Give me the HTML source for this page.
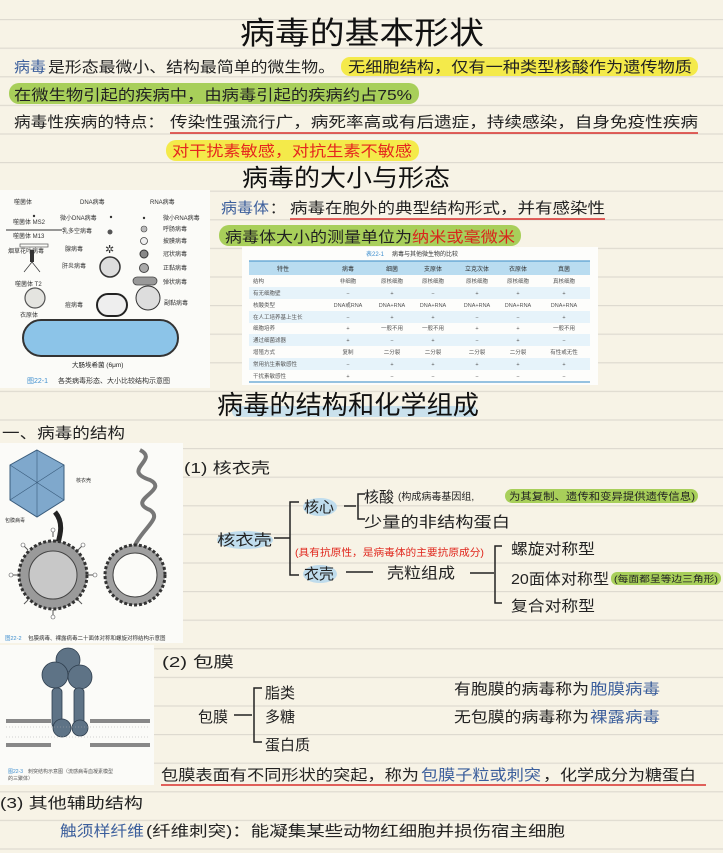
<!DOCTYPE html>
<html><head><meta charset="utf-8"><style>
html,body{margin:0;padding:0;width:723px;height:853px;overflow:hidden;background:#f7f3e6;}
svg{display:block}
text{font-family:"Liberation Sans","Noto Sans CJK SC",sans-serif;}
</style></head><body>
<svg width="723" height="853" viewBox="0 0 723 853" xmlns="http://www.w3.org/2000/svg">
<defs>
<pattern id="rule" x="0" y="19" width="723" height="28.6" patternUnits="userSpaceOnUse">
<rect x="0" y="0" width="723" height="1.2" fill="#dedad0"/>
</pattern>
</defs>
<rect width="723" height="853" fill="#f7f3e6"/>
<rect width="723" height="853" fill="url(#rule)"/>

<text x="240" y="44" font-size="31" textLength="244" lengthAdjust="spacingAndGlyphs" fill="#111">病毒的基本形状</text>

<rect x="341" y="57" width="357" height="19" rx="9" fill="#f4ea4a"/>
<text x="14" y="72" font-size="15" fill="#3c5f9c" textLength="32" lengthAdjust="spacingAndGlyphs">病毒</text>
<text x="48" y="72" font-size="15" fill="#222" textLength="287" lengthAdjust="spacingAndGlyphs">是形态最微小、结构最简单的微生物。</text>
<text x="348" y="72" font-size="15" fill="#222" textLength="344" lengthAdjust="spacingAndGlyphs">无细胞结构，仅有一种类型核酸作为遗传物质</text>

<rect x="9" y="83" width="410" height="21" rx="10" fill="#a8cf5a"/>
<text x="14" y="100" font-size="15" fill="#222" textLength="398" lengthAdjust="spacingAndGlyphs">在微生物引起的疾病中，由病毒引起的疾病约占75%</text>

<text x="14" y="127" font-size="15" fill="#222" textLength="150" lengthAdjust="spacingAndGlyphs">病毒性疾病的特点：</text>
<text x="170" y="127" font-size="15" fill="#222" textLength="528" lengthAdjust="spacingAndGlyphs">传染性强流行广，病死率高或有后遗症，持续感染，自身免疫性疾病</text>
<line x1="170" y1="133" x2="698" y2="133" stroke="#d8302c" stroke-width="1.5"/>

<rect x="166" y="140" width="253" height="21" rx="10" fill="#f4ea4a"/>
<text x="172" y="156" font-size="15" fill="#e5261e" textLength="240" lengthAdjust="spacingAndGlyphs">对干扰素敏感，对抗生素不敏感</text>

<text x="242" y="186" font-size="24" textLength="208" lengthAdjust="spacingAndGlyphs" fill="#111">病毒的大小与形态</text>

<rect x="0" y="190" width="210" height="198" fill="#fbfbf8"/>
<g font-size="6" fill="#333">
<text x="14" y="204">噬菌体</text><text x="80" y="204">DNA病毒</text><text x="150" y="204">RNA病毒</text>
<circle cx="34" cy="216" r="1.2" fill="#333"/>
<text x="13" y="224">噬菌体 MS2</text>
<line x1="6" y1="230" x2="62" y2="230" stroke="#333" stroke-width="1"/>
<text x="13" y="238">噬菌体 M13</text>
<rect x="20" y="244" width="28" height="3" fill="none" stroke="#555" stroke-width="0.7"/>
<text x="8" y="253">烟草花叶病毒</text>
<text x="60" y="220">微小DNA病毒</text><circle cx="111" cy="217" r="1.2" fill="#333"/>
<text x="62" y="233">乳多空病毒</text><circle cx="110" cy="232" r="2.5" fill="#555"/>
<text x="65" y="251">腺病毒</text><text x="105" y="253" font-size="11">✲</text>
<text x="62" y="268">肝炎病毒</text><circle cx="110" cy="267" r="10" fill="#ddd" stroke="#333" stroke-width="1.5"/>
<text x="65" y="307">痘病毒</text><rect x="97" y="294" width="30" height="22" rx="11" fill="#eee" stroke="#222" stroke-width="2"/>
<circle cx="148" cy="298" r="12" fill="#ddd" stroke="#333" stroke-width="1"/>
<text x="164" y="305">副黏病毒</text>
<circle cx="144" cy="218" r="1.2" fill="#333"/><text x="163" y="220">微小RNA病毒</text>
<circle cx="144" cy="229" r="3" fill="#bbb" stroke="#444" stroke-width="0.6"/><text x="163" y="231">呼肠病毒</text>
<circle cx="144" cy="241" r="3.5" fill="#eee" stroke="#444" stroke-width="0.8"/><text x="163" y="243">披膜病毒</text>
<circle cx="144" cy="254" r="4" fill="#888" stroke="#333" stroke-width="1"/><text x="163" y="256">冠状病毒</text>
<circle cx="144" cy="268" r="4.5" fill="#aaa" stroke="#444" stroke-width="1"/><text x="163" y="270">正黏病毒</text>
<rect x="133" y="277" width="24" height="8" rx="4" fill="#999" stroke="#444" stroke-width="0.8"/><text x="163" y="284">弹状病毒</text>
<rect x="30" y="250" width="4" height="12" fill="#333"/>
<line x1="32" y1="262" x2="24" y2="272" stroke="#333" stroke-width="0.7"/><line x1="32" y1="262" x2="40" y2="272" stroke="#333" stroke-width="0.7"/>
<text x="15" y="286">噬菌体 T2</text>
<circle cx="35" cy="298" r="10" fill="#e4e4e0" stroke="#555" stroke-width="1.2"/>
<text x="20" y="317">衣原体</text>
</g>
<rect x="23" y="320" width="155" height="36" rx="18" fill="#8cc4e8" stroke="#333" stroke-width="2"/>
<text x="72" y="367" font-size="6.5" fill="#222">大肠埃希菌 (6μm)</text>
<text x="27" y="383" font-size="7" fill="#3f8fcf">图22-1</text>
<text x="58" y="383" font-size="7" fill="#333">各类病毒形态、大小比较结构示意图</text>

<text x="221" y="213" font-size="15" fill="#3c5f9c" textLength="48" lengthAdjust="spacingAndGlyphs">病毒体</text>
<text x="270" y="213" font-size="15" fill="#222">：</text>
<text x="290" y="213" font-size="15" fill="#222" textLength="315" lengthAdjust="spacingAndGlyphs">病毒在胞外的典型结构形式，并有感染性</text>
<line x1="290" y1="219" x2="605" y2="219" stroke="#d8302c" stroke-width="1.5"/>
<rect x="219" y="225" width="302" height="21" rx="10" fill="#a8cf5a"/>
<text x="225" y="242" font-size="15" fill="#222" textLength="187" lengthAdjust="spacingAndGlyphs">病毒体大小的测量单位为</text>
<text x="412" y="242" font-size="15" fill="#d8261c" textLength="103" lengthAdjust="spacingAndGlyphs">纳米或毫微米</text>

<rect x="242" y="247" width="356" height="138" fill="#fdfdfb"/>
<text x="366" y="256" font-size="6" fill="#3f8fcf">表22-1</text>
<text x="392" y="256" font-size="6" fill="#333">病毒与其他微生物的比较</text>
<rect x="249" y="261" width="341" height="14" fill="#b9dcf0"/>
<line x1="249" y1="261" x2="590" y2="261" stroke="#5aa0d0" stroke-width="1.2"/>
<g fill="#e6f3fa">
<rect x="249" y="287" width="341" height="12"/><rect x="249" y="311" width="341" height="12"/><rect x="249" y="334" width="341" height="12"/><rect x="249" y="358" width="341" height="12"/>
</g>
<line x1="249" y1="382" x2="590" y2="382" stroke="#5aa0d0" stroke-width="1.2"/>
<g font-size="6" fill="#333" text-anchor="middle">
<text x="283" y="271">特性</text><text x="348" y="271">病毒</text><text x="392" y="271">细菌</text><text x="433" y="271">支原体</text><text x="477" y="271">立克次体</text><text x="518" y="271">衣原体</text><text x="564" y="271">真菌</text>
</g>
<g font-size="5.5" fill="#555" text-anchor="middle">
<text x="348" y="283">非细胞</text><text x="392" y="283">原核细胞</text><text x="433" y="283">原核细胞</text><text x="477" y="283">原核细胞</text><text x="518" y="283">原核细胞</text><text x="564" y="283">真核细胞</text>
<text x="348" y="295">−</text><text x="392" y="295">+</text><text x="433" y="295">−</text><text x="477" y="295">+</text><text x="518" y="295">+</text><text x="564" y="295">+</text>
<text x="348" y="307">DNA或RNA</text><text x="392" y="307">DNA+RNA</text><text x="433" y="307">DNA+RNA</text><text x="477" y="307">DNA+RNA</text><text x="518" y="307">DNA+RNA</text><text x="564" y="307">DNA+RNA</text>
<text x="348" y="319">−</text><text x="392" y="319">+</text><text x="433" y="319">+</text><text x="477" y="319">−</text><text x="518" y="319">−</text><text x="564" y="319">+</text>
<text x="348" y="330">+</text><text x="392" y="330">一般不用</text><text x="433" y="330">一般不用</text><text x="477" y="330">+</text><text x="518" y="330">+</text><text x="564" y="330">一般不用</text>
<text x="348" y="342">+</text><text x="392" y="342">−</text><text x="433" y="342">+</text><text x="477" y="342">−</text><text x="518" y="342">+</text><text x="564" y="342">−</text>
<text x="348" y="354">复制</text><text x="392" y="354">二分裂</text><text x="433" y="354">二分裂</text><text x="477" y="354">二分裂</text><text x="518" y="354">二分裂</text><text x="564" y="354">有性或无性</text>
<text x="348" y="366">−</text><text x="392" y="366">+</text><text x="433" y="366">+</text><text x="477" y="366">+</text><text x="518" y="366">+</text><text x="564" y="366">+</text>
<text x="348" y="378">+</text><text x="392" y="378">−</text><text x="433" y="378">−</text><text x="477" y="378">−</text><text x="518" y="378">−</text><text x="564" y="378">−</text>
</g>
<g font-size="5.5" fill="#555">
<text x="253" y="283">结构</text><text x="253" y="295">有无细胞壁</text><text x="253" y="307">核酸类型</text><text x="253" y="319">在人工培养基上生长</text><text x="253" y="330">细胞培养</text><text x="253" y="342">通过细菌滤器</text><text x="253" y="354">增殖方式</text><text x="253" y="366">常用抗生素敏感性</text><text x="253" y="378">干扰素敏感性</text>
</g>

<rect x="232" y="406" width="245" height="11" rx="5" fill="#b6d8ee" opacity="0.7"/>
<text x="217" y="414" font-size="26" textLength="262" lengthAdjust="spacingAndGlyphs" fill="#111">病毒的结构和化学组成</text>
<text x="2" y="438" font-size="15" fill="#222" textLength="123" lengthAdjust="spacingAndGlyphs">一、病毒的结构</text>

<rect x="0" y="443" width="183" height="200" fill="#fbfbf8"/>
<polygon points="37,450 64,465 64,500 37,517 10,500 10,465" fill="#7fa8cc" stroke="#3a5c7c" stroke-width="1"/>
<g stroke="#3a5c7c" stroke-width="0.6" fill="none"><line x1="37" y1="450" x2="37" y2="517"/><line x1="10" y1="465" x2="64" y2="500"/><line x1="64" y1="465" x2="10" y2="500"/></g>
<text x="76" y="482" font-size="5" fill="#333">核衣壳</text>
<path d="M55,512 C70,530 50,550 55,570" stroke="#222" stroke-width="5" fill="none"/>
<path d="M140,450 C160,460 120,470 150,480 C170,490 125,500 150,510 C165,520 135,530 130,560" stroke="#777" stroke-width="4" fill="none"/>
<circle cx="53" cy="575" r="34" fill="#9a9a9a" stroke="#333" stroke-width="3" stroke-dasharray="3 2"/>
<circle cx="53" cy="575" r="24" fill="#c8c8c8" stroke="#444" stroke-width="1"/>
<circle cx="135" cy="575" r="30" fill="#a0a0a0" stroke="#333" stroke-width="3" stroke-dasharray="3 2"/>
<circle cx="135" cy="575" r="22" fill="#fbfbf8" stroke="#444" stroke-width="1"/>
<g stroke="#555" stroke-width="1"><line x1="53" y1="537" x2="53" y2="531"/><line x1="18" y1="575" x2="12" y2="575"/><line x1="88" y1="575" x2="94" y2="575"/><line x1="53" y1="610" x2="53" y2="616"/><line x1="28" y1="550" x2="24" y2="546"/><line x1="78" y1="550" x2="82" y2="546"/><line x1="28" y1="600" x2="24" y2="604"/><line x1="78" y1="600" x2="82" y2="604"/></g>
<g fill="#fff" stroke="#555" stroke-width="0.6"><circle cx="53" cy="530" r="2"/><circle cx="11" cy="575" r="2"/><circle cx="95" cy="575" r="2"/><circle cx="53" cy="617" r="2"/><circle cx="23" cy="545" r="2"/><circle cx="83" cy="545" r="2"/></g>
<text x="5" y="522" font-size="5" fill="#333">包膜病毒</text>
<text x="5" y="640" font-size="5.5" fill="#3f8fcf">图22-2</text>
<text x="28" y="640" font-size="5.5" fill="#333">包膜病毒、裸露病毒二十面体对称和螺旋对称结构示意图</text>

<text x="184" y="473" font-size="15" fill="#222" textLength="86" lengthAdjust="spacingAndGlyphs">(1) 核衣壳</text>
<g fill="#b6d8ee" opacity="0.85">
<ellipse cx="245" cy="540" rx="28" ry="9"/><ellipse cx="320" cy="507" rx="17" ry="9"/><ellipse cx="320" cy="574" rx="17" ry="9"/>
</g>
<text x="217" y="545" font-size="15" fill="#222" textLength="55" lengthAdjust="spacingAndGlyphs">核衣壳</text>
<g stroke="#222" stroke-width="1.5" fill="none">
<line x1="274" y1="538" x2="290" y2="538"/>
<polyline points="299,502 290,502 290,575 299,575"/>
<line x1="344" y1="506" x2="356" y2="506"/>
<polyline points="365,494 358,494 358,519 365,519"/>
<line x1="346" y1="572" x2="373" y2="572"/>
<line x1="470" y1="573" x2="494" y2="573"/>
<polyline points="502,546 495,546 495,603 502,603"/>
<line x1="234" y1="715" x2="252" y2="715"/>
<polyline points="262,688 254,688 254,742 262,742"/>
</g>
<text x="304" y="512" font-size="15" fill="#222">核心</text>
<text x="364" y="502" font-size="15" fill="#222">核酸</text>
<text x="398" y="500" font-size="10" fill="#222">(构成病毒基因组,</text>
<rect x="505" y="489" width="193" height="14" rx="7" fill="#a8cf5a"/>
<text x="509" y="500" font-size="10" fill="#222" textLength="186" lengthAdjust="spacingAndGlyphs">为其复制、遗传和变异提供遗传信息)</text>
<text x="364" y="527" font-size="15" fill="#222" textLength="146" lengthAdjust="spacingAndGlyphs">少量的非结构蛋白</text>
<text x="295" y="556" font-size="10" fill="#e0261c" textLength="189" lengthAdjust="spacingAndGlyphs">(具有抗原性，是病毒体的主要抗原成分)</text>
<text x="304" y="579" font-size="15" fill="#222">衣壳</text>
<text x="387" y="578" font-size="15" fill="#222" textLength="68" lengthAdjust="spacingAndGlyphs">壳粒组成</text>
<text x="511" y="554" font-size="15" fill="#222" textLength="84" lengthAdjust="spacingAndGlyphs">螺旋对称型</text>
<text x="511" y="584" font-size="15" fill="#222" textLength="98" lengthAdjust="spacingAndGlyphs">20面体对称型</text>
<rect x="611" y="572" width="110" height="13" rx="6" fill="#a8cf5a"/>
<text x="614" y="582" font-size="9" fill="#222" textLength="104" lengthAdjust="spacingAndGlyphs">(每面都呈等边三角形)</text>
<text x="511" y="611" font-size="15" fill="#222" textLength="84" lengthAdjust="spacingAndGlyphs">复合对称型</text>

<rect x="0" y="645" width="154" height="140" fill="#fbfbf8"/>
<g fill="#5e7386" stroke="#2e3e4e" stroke-width="0.8">
<circle cx="68" cy="660" r="12"/><circle cx="55" cy="675" r="13"/><circle cx="80" cy="677" r="12"/>
<rect x="52" y="688" width="10" height="40" rx="4"/><rect x="74" y="688" width="10" height="40" rx="4"/>
<circle cx="62" cy="728" r="9"/><circle cx="80" cy="728" r="8"/>
</g>
<g fill="#888">
<rect x="6" y="719" width="45" height="4"/><rect x="90" y="719" width="60" height="4"/>
<rect x="6" y="743" width="45" height="4"/><rect x="90" y="743" width="60" height="4"/>
</g>
<g stroke="#aaa" stroke-width="0.6"><line x1="6" y1="727" x2="150" y2="727" stroke-dasharray="1 2"/><line x1="6" y1="737" x2="150" y2="737" stroke-dasharray="1 2"/></g>
<text x="8" y="773" font-size="5" fill="#3f8fcf">图22-3</text>
<text x="28" y="773" font-size="5" fill="#555">刺突结构示意图（流感病毒血凝素模型</text>
<text x="8" y="780" font-size="5" fill="#555">的三聚体）</text>

<text x="162" y="667" font-size="15" fill="#222" textLength="72" lengthAdjust="spacingAndGlyphs">(2) 包膜</text>
<text x="265" y="698" font-size="15" fill="#222">脂类</text>
<text x="198" y="722" font-size="15" fill="#222">包膜</text>
<text x="265" y="722" font-size="15" fill="#222">多糖</text>
<text x="265" y="750" font-size="15" fill="#222">蛋白质</text>
<text x="454" y="694" font-size="15" fill="#222" textLength="135" lengthAdjust="spacingAndGlyphs">有胞膜的病毒称为</text>
<text x="590" y="694" font-size="15" fill="#3c5f9c" textLength="70" lengthAdjust="spacingAndGlyphs">胞膜病毒</text>
<text x="454" y="722" font-size="15" fill="#222" textLength="135" lengthAdjust="spacingAndGlyphs">无包膜的病毒称为</text>
<text x="590" y="722" font-size="15" fill="#3c5f9c" textLength="70" lengthAdjust="spacingAndGlyphs">裸露病毒</text>

<text x="161" y="780" font-size="15" fill="#222" textLength="258" lengthAdjust="spacingAndGlyphs">包膜表面有不同形状的突起，称为</text>
<text x="421" y="780" font-size="15" fill="#3c5f9c" textLength="120" lengthAdjust="spacingAndGlyphs">包膜子粒或刺突</text>
<text x="543" y="780" font-size="15" fill="#222" textLength="153" lengthAdjust="spacingAndGlyphs">，化学成分为糖蛋白</text>
<line x1="161" y1="785" x2="706" y2="785" stroke="#d8302c" stroke-width="1.5"/>

<text x="0" y="808" font-size="15" fill="#222" textLength="143" lengthAdjust="spacingAndGlyphs">(3) 其他辅助结构</text>
<text x="60" y="836" font-size="15" fill="#3c5f9c" textLength="84" lengthAdjust="spacingAndGlyphs">触须样纤维</text>
<text x="146" y="836" font-size="15" fill="#222" textLength="419" lengthAdjust="spacingAndGlyphs">(纤维刺突)：能凝集某些动物红细胞并损伤宿主细胞</text>
</svg>
</body></html>
